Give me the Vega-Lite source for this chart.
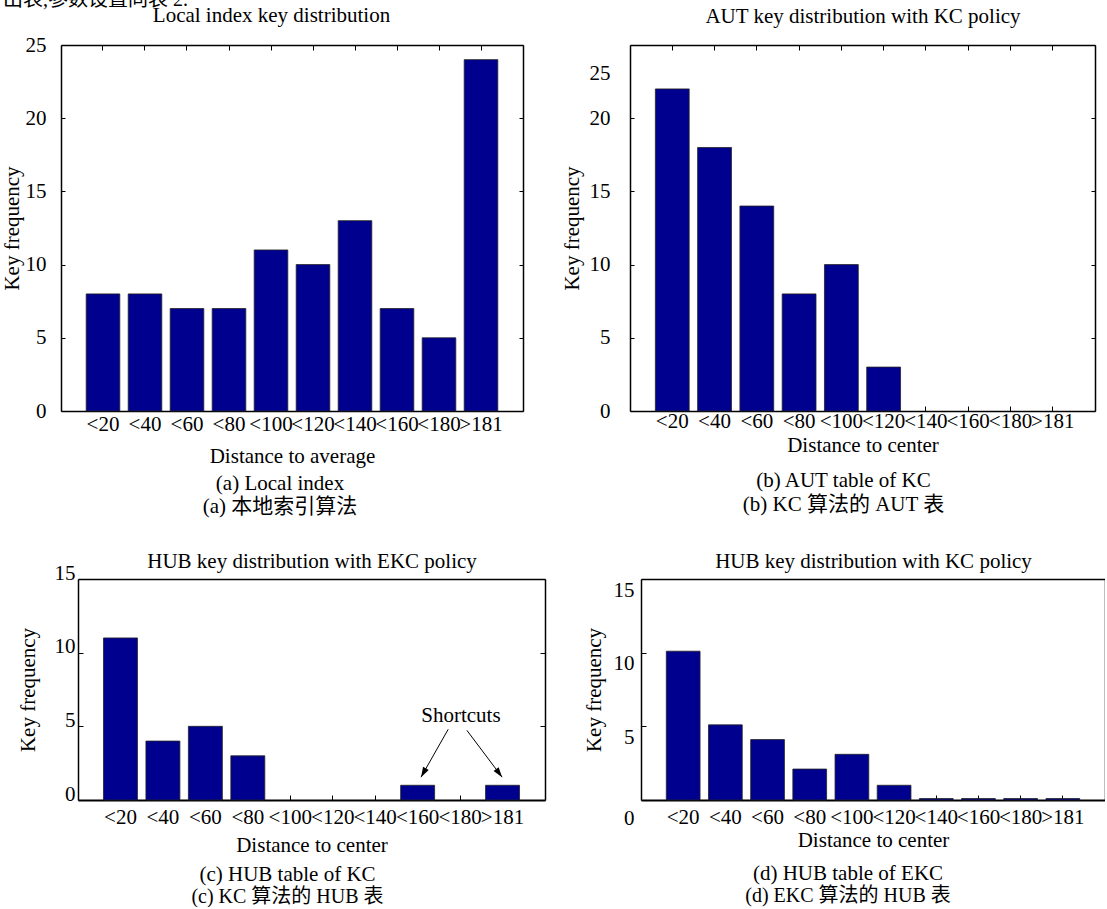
{
  "$schema": "https://vega.github.io/schema/vega-lite/v6.json",
  "background": "white",
  "padding": {"left": 0, "top": -11, "right": 0, "bottom": 0},
  "title": {"text": "出表,参数设置同表 2.", "anchor": "start", "frame": "bounds", "orient": "top", "offset": -5, "dx": 3, "font": "Liberation Serif, Noto Sans CJK SC", "fontSize": 20, "fontWeight": "normal", "color": "black"},
  "datasets": {
    "a": [
      {"range": "<20", "freq": 8}, {"range": "<40", "freq": 8}, {"range": "<60", "freq": 7},
      {"range": "<80", "freq": 7}, {"range": "<100", "freq": 11}, {"range": "<120", "freq": 10},
      {"range": "<140", "freq": 13}, {"range": "<160", "freq": 7}, {"range": "<180", "freq": 5},
      {"range": ">181", "freq": 24}
    ],
    "b": [
      {"range": "<20", "freq": 22}, {"range": "<40", "freq": 18}, {"range": "<60", "freq": 14},
      {"range": "<80", "freq": 8}, {"range": "<100", "freq": 10}, {"range": "<120", "freq": 3}
    ],
    "c": [
      {"range": "<20", "freq": 11}, {"range": "<40", "freq": 4}, {"range": "<60", "freq": 5},
      {"range": "<80", "freq": 3}, {"range": "<160", "freq": 1}, {"range": ">181", "freq": 1}
    ],
    "d": [
      {"range": "<20", "freq": 10.1}, {"range": "<40", "freq": 5.1}, {"range": "<60", "freq": 4.1},
      {"range": "<80", "freq": 2.1}, {"range": "<100", "freq": 3.1}, {"range": "<120", "freq": 1.0},
      {"range": "<140", "freq": 0.1}, {"range": "<160", "freq": 0.1}, {"range": "<180", "freq": 0.1},
      {"range": ">181", "freq": 0.1}
    ],
    "arrows": [
      {"arrow": "left", "x": 8.72, "y": 4.8, "x2": 8.08, "y2": 1.55},
      {"arrow": "right", "x": 9.16, "y": 4.73, "x2": 9.99, "y2": 1.55}
    ],
    "note": [{"label": "Shortcuts", "x": 9.02, "y": 5.68}],
    "blank": [{}]
  },
  "bounds": "flush",
  "spacing": 534,
  "vconcat": [
    {
      "bounds": "flush",
      "spacing": 0,
      "hconcat": [
        {"width": 61, "height": 1, "data": {"name": "blank"}, "mark": {"type": "point", "opacity": 0}, "encoding": {}},
        {
          "width": 462, "height": 366,
          "data": {"name": "a"},
          "title": {"text": "(a) Local index", "subtitle": "(a)  本地索引算法", "orient": "bottom", "anchor": "middle", "frame": "group", "dx": -12, "offset": 7, "subtitlePadding": 2},
          "layer": [
            {"mark": {"type": "bar", "fill": "#00008F", "stroke": "#222222", "strokeWidth": 0.8},
             "encoding": {
               "x": {"field": "range", "type": "nominal", "scale": {"domain": ["<20","<40","<60","<80","<100","<120","<140","<160","<180",">181"], "paddingInner": 0.2, "paddingOuter": 0.6},
                     "axis": {"orient": "bottom", "title": "Distance to average", "labelAngle": 0, "labelOverlap": false, "tickSize": -5, "labelPadding": 7, "titlePadding": 11}},
               "y": {"field": "freq", "type": "quantitative", "scale": {"domain": [0, 25], "nice": false},
                     "axis": {"orient": "left", "title": "Key frequency", "values": [0, 5, 10, 15, 20, 25], "tickSize": -4, "labelPadding": 19, "titlePadding": 3}}
             }},
            {"mark": {"type": "bar", "opacity": 0},
             "encoding": {
               "x": {"field": "range", "type": "nominal", "scale": {"domain": ["<20","<40","<60","<80","<100","<120","<140","<160","<180",">181"], "paddingInner": 0.2, "paddingOuter": 0.6},
                     "axis": {"orient": "top", "title": "Local index key distribution", "labels": false, "tickSize": -5, "titlePadding": 19, "titleX": 210}},
               "y": {"field": "freq", "type": "quantitative", "scale": {"domain": [0, 25], "nice": false},
                     "axis": {"orient": "right", "title": null, "labels": false, "values": [0, 5, 10, 15, 20, 25], "tickSize": -4}}
             }}
          ],
          "resolve": {"axis": {"x": "independent", "y": "independent"}}
        },
        {"width": 107, "height": 1, "data": {"name": "blank"}, "mark": {"type": "point", "opacity": 0}, "encoding": {}},
        {
          "width": 465, "height": 366,
          "data": {"name": "b"},
          "title": {"text": "(b) AUT table of KC", "subtitle": "(b) KC 算法的 AUT 表", "orient": "bottom", "anchor": "middle", "frame": "group", "dx": -19, "offset": 14, "subtitlePadding": 3},
          "layer": [
            {"mark": {"type": "bar", "fill": "#00008F", "stroke": "#222222", "strokeWidth": 0.8},
             "encoding": {
               "x": {"field": "range", "type": "nominal", "scale": {"domain": ["<20","<40","<60","<80","<100","<120","<140","<160","<180",">181"], "paddingInner": 0.2, "paddingOuter": 0.6},
                     "axis": {"orient": "bottom", "title": "Distance to center", "labelAngle": 0, "labelOverlap": false, "tickSize": -5, "labelPadding": 4.5, "titlePadding": 3}},
               "y": {"field": "freq", "type": "quantitative", "scale": {"domain": [0, 25], "nice": false},
                     "axis": {"orient": "left", "title": "Key frequency", "values": [0, 5, 10, 15, 20, 25], "tickSize": -4, "labelPadding": 24, "titlePadding": 7,
                              "labelOffset": {"condition": {"test": "datum.value == 25", "value": 28}, "value": 0}}}
             }},
            {"mark": {"type": "bar", "opacity": 0},
             "encoding": {
               "x": {"field": "range", "type": "nominal", "scale": {"domain": ["<20","<40","<60","<80","<100","<120","<140","<160","<180",">181"], "paddingInner": 0.2, "paddingOuter": 0.6},
                     "axis": {"orient": "top", "title": "AUT key distribution with KC policy", "labels": false, "tickSize": -5, "titlePadding": 18}},
               "y": {"field": "freq", "type": "quantitative", "scale": {"domain": [0, 25], "nice": false},
                     "axis": {"orient": "right", "title": null, "labels": false, "values": [0, 5, 10, 15, 20, 25], "tickSize": -4}}
             }}
          ],
          "resolve": {"axis": {"x": "independent", "y": "independent"}}
        }
      ]
    },
    {
      "bounds": "flush",
      "spacing": 0,
      "hconcat": [
        {"width": 78, "height": 1, "data": {"name": "blank"}, "mark": {"type": "point", "opacity": 0}, "encoding": {}},
        {
          "width": 467, "height": 221,
          "data": {"name": "c"},
          "title": {"text": "(c) HUB table of KC", "subtitle": "(c) KC 算法的 HUB 表", "orient": "bottom", "anchor": "middle", "frame": "group", "dx": -24, "offset": 9, "subtitlePadding": 2, "subtitleFontSize": 20},
          "layer": [
            {"mark": {"type": "bar", "fill": "#00008F", "stroke": "#222222", "strokeWidth": 0.8},
             "encoding": {
               "x": {"field": "range", "type": "nominal", "scale": {"domain": ["<20","<40","<60","<80","<100","<120","<140","<160","<180",">181"], "paddingInner": 0.2, "paddingOuter": 0.6},
                     "axis": {"orient": "bottom", "title": "Distance to center", "labelAngle": 0, "labelOverlap": false, "tickSize": -5, "labelPadding": 11, "titlePadding": 7, "domainWidth": 2}},
               "y": {"field": "freq", "type": "quantitative", "scale": {"domain": [0, 15], "nice": false},
                     "axis": {"orient": "left", "title": "Key frequency", "values": [0, 5, 10, 15], "tickSize": -5, "labelPadding": 8, "titlePadding": 16, "labelBaseline": "alphabetic"}}
             }},
            {"mark": {"type": "bar", "opacity": 0},
             "encoding": {
               "x": {"field": "range", "type": "nominal", "scale": {"domain": ["<20","<40","<60","<80","<100","<120","<140","<160","<180",">181"], "paddingInner": 0.2, "paddingOuter": 0.6},
                     "axis": {"orient": "top", "title": "HUB key distribution with EKC policy", "labels": false, "ticks": false, "titlePadding": 8}},
               "y": {"field": "freq", "type": "quantitative", "scale": {"domain": [0, 15], "nice": false},
                     "axis": {"orient": "right", "title": null, "labels": false, "values": [0, 5, 10, 15], "tickSize": -5}}
             }},
            {"data": {"name": "arrows"},
             "mark": {"type": "rule", "color": "black", "strokeWidth": 1},
             "encoding": {
               "x": {"field": "x", "type": "quantitative", "scale": {"domain": [0, 11], "nice": false, "zero": false}, "axis": null},
               "x2": {"field": "x2"},
               "y": {"field": "y", "type": "quantitative", "scale": {"domain": [0, 15], "nice": false}, "axis": null},
               "y2": {"field": "y2"}
             }},
            {"data": {"name": "arrows"},
             "transform": [{"filter": "datum.arrow == 'left'"}],
             "mark": {"type": "point", "shape": "M0,0L-0.32,1L0.32,1Z", "filled": true, "color": "black", "opacity": 1, "size": 400, "angle": 209},
             "encoding": {
               "x": {"field": "x2", "type": "quantitative", "scale": {"domain": [0, 11], "nice": false, "zero": false}, "axis": null},
               "y": {"field": "y2", "type": "quantitative", "scale": {"domain": [0, 15], "nice": false}, "axis": null}
             }},
            {"data": {"name": "arrows"},
             "transform": [{"filter": "datum.arrow == 'right'"}],
             "mark": {"type": "point", "shape": "M0,0L-0.32,1L0.32,1Z", "filled": true, "color": "black", "opacity": 1, "size": 400, "angle": 143},
             "encoding": {
               "x": {"field": "x2", "type": "quantitative", "scale": {"domain": [0, 11], "nice": false, "zero": false}, "axis": null},
               "y": {"field": "y2", "type": "quantitative", "scale": {"domain": [0, 15], "nice": false}, "axis": null}
             }},
            {"data": {"name": "note"},
             "mark": {"type": "text", "fontSize": 21, "font": "Liberation Serif", "color": "black", "align": "center", "baseline": "middle"},
             "encoding": {
               "x": {"field": "x", "type": "quantitative", "scale": {"domain": [0, 11], "nice": false, "zero": false}, "axis": null},
               "y": {"field": "y", "type": "quantitative", "scale": {"domain": [0, 15], "nice": false}, "axis": null},
               "text": {"field": "label"}
             }}
          ],
          "resolve": {"scale": {"x": "independent"}, "axis": {"x": "independent", "y": "independent"}}
        },
        {"width": 96, "height": 1, "data": {"name": "blank"}, "mark": {"type": "point", "opacity": 0}, "encoding": {}},
        {
          "width": 464, "height": 221,
          "data": {"name": "d"},
          "title": {"text": "(d) HUB table of EKC", "subtitle": "(d) EKC 算法的 HUB 表", "orient": "bottom", "anchor": "middle", "frame": "group", "dx": -25, "offset": 13, "subtitlePadding": 2, "subtitleFontSize": 20},
          "layer": [
            {"mark": {"type": "bar", "fill": "#00008F", "stroke": "#222222", "strokeWidth": 0.8},
             "encoding": {
               "x": {"field": "range", "type": "nominal", "scale": {"domain": ["<20","<40","<60","<80","<100","<120","<140","<160","<180",">181"], "paddingInner": 0.2, "paddingOuter": 0.6},
                     "axis": {"orient": "bottom", "title": "Distance to center", "labelAngle": 0, "labelOverlap": false, "tickSize": -5, "labelPadding": 11, "titlePadding": 2, "domainWidth": 2}},
               "y": {"field": "freq", "type": "quantitative", "scale": {"domain": [0, 15], "nice": false},
                     "axis": {"orient": "left", "title": "Key frequency", "values": [0, 5, 10, 15], "tickSize": -5, "labelPadding": 12, "titlePadding": 9, "labelBaseline": "top",
                              "labelOffset": {"condition": {"test": "datum.value == 0", "value": 7}, "value": 0}}}
             }},
            {"mark": {"type": "bar", "opacity": 0},
             "encoding": {
               "x": {"field": "range", "type": "nominal", "scale": {"domain": ["<20","<40","<60","<80","<100","<120","<140","<160","<180",">181"], "paddingInner": 0.2, "paddingOuter": 0.6},
                     "axis": {"orient": "top", "title": "HUB key distribution with KC policy", "labels": false, "ticks": false, "titlePadding": 8}},
               "y": {"field": "freq", "type": "quantitative", "scale": {"domain": [0, 15], "nice": false},
                     "axis": {"orient": "right", "title": null, "labels": false, "ticks": false}}
             }}
          ],
          "resolve": {"axis": {"x": "independent", "y": "independent"}}
        }
      ]
    }
  ],
  "config": {
    "font": "Liberation Serif",
    "view": {"stroke": null},
    "axis": {
      "grid": false,
      "labelFont": "Liberation Serif", "titleFont": "Liberation Serif",
      "labelFontSize": 21, "titleFontSize": 21, "titleFontWeight": "normal",
      "labelColor": "black", "titleColor": "black",
      "domainColor": "black", "tickColor": "black",
      "domainWidth": 1.5, "tickWidth": 1
    },
    "title": {
      "font": "Liberation Serif", "fontSize": 21, "fontWeight": "normal", "color": "black",
      "subtitleFont": "Liberation Serif, Noto Sans CJK SC", "subtitleFontSize": 21, "subtitleColor": "black"
    }
  }
}
